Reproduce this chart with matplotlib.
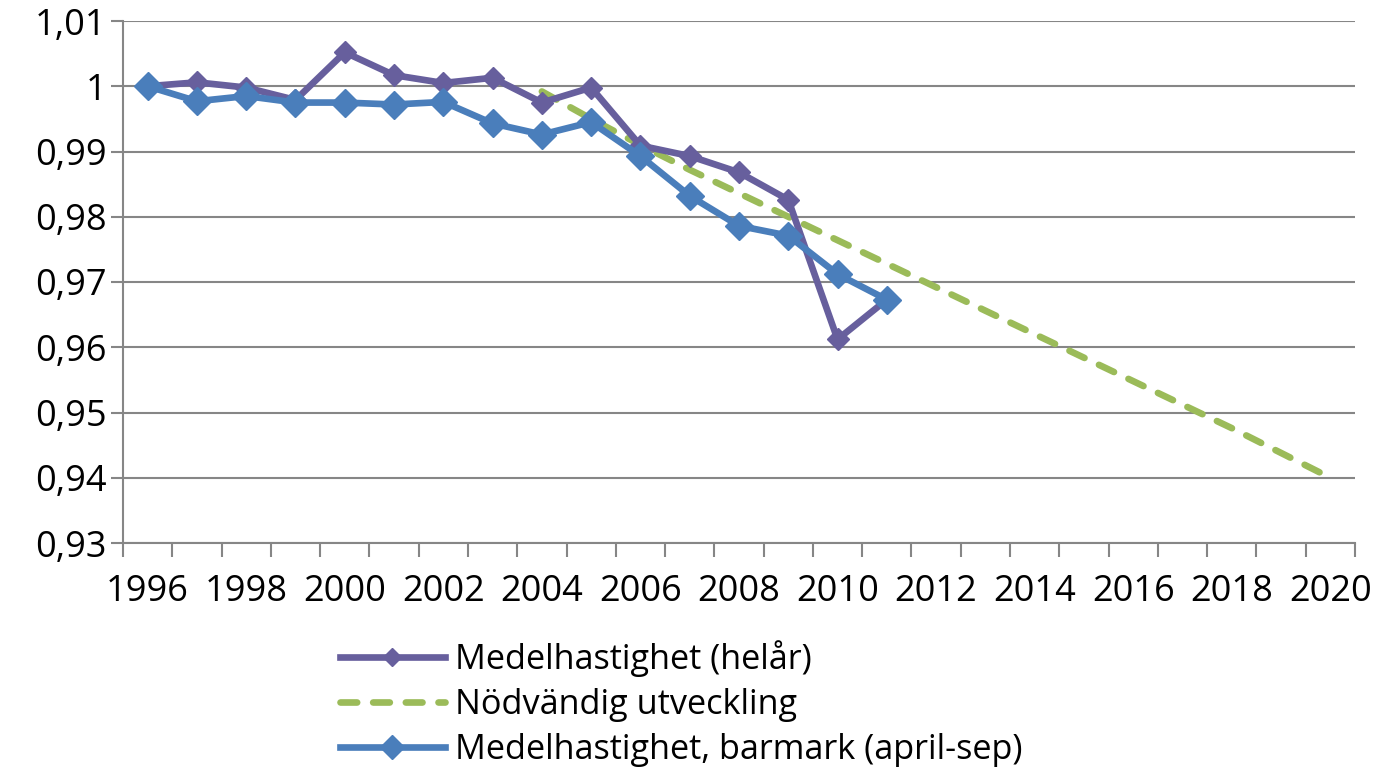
import matplotlib
matplotlib.use("Agg")
import matplotlib.pyplot as plt
from matplotlib.ticker import FixedLocator, FuncFormatter

years = list(range(1996, 2021))

helar_years = list(range(1996, 2012))
helar = [1.0000, 1.0006, 0.9998, 0.9979, 1.0052, 1.0017, 1.0005, 1.0013,
         0.9975, 0.9998, 0.9909, 0.9893, 0.9868, 0.9826, 0.9612, 0.9673]

barmark_years = list(range(1996, 2012))
barmark = [1.0000, 0.9977, 0.9985, 0.9975, 0.9975, 0.9972, 0.9976, 0.9943,
           0.9926, 0.9945, 0.9893, 0.9832, 0.9786, 0.9771, 0.9712, 0.9673]

need_years = list(range(2004, 2021))
need = [0.9992, 0.9950, 0.9910, 0.9872, 0.9836, 0.9800, 0.9764, 0.9728,
        0.9692, 0.9656, 0.9620, 0.9584, 0.9548, 0.9512, 0.9476, 0.9438, 0.9400]

y_ticks = [0.93, 0.94, 0.95, 0.96, 0.97, 0.98, 0.99, 1.00, 1.01]


def swedish(v, _pos):
    if abs(v - 1) < 1e-9:
        return "1"
    return f"{v:.2f}".replace(".", ",")


plt.rcParams["font.family"] = ["Open Sans", "DejaVu Sans"]

fig = plt.figure(figsize=(13.73, 7.69), dpi=100)
ax = fig.add_axes([123 / 1373, 1 - 543 / 769, 1232 / 1373, 522 / 769])

grey = "#868686"

ax.plot(helar_years, helar, color="#675F9D", lw=4.8, marker="D", ms=11,
        solid_joinstyle="round", label="Medelhastighet (helår)", zorder=3)
ax.plot(need_years, need, color="#9BBB59", lw=4.8, ls=(0, (2.5, 2.4)),
        dash_capstyle="round", label="Nödvändig utveckling", zorder=2)
ax.plot(barmark_years, barmark, color="#4A7EBB", lw=4.8, marker="D", ms=14,
        solid_joinstyle="round", label="Medelhastighet, barmark (april-sep)", zorder=4)

ax.set_xlim(years[0] - 0.5, years[-1] + 0.5)
ax.set_ylim(y_ticks[0], y_ticks[-1])

ax.xaxis.set_major_locator(FixedLocator(years[::2]))
ax.xaxis.set_minor_locator(FixedLocator([y - 0.5 for y in years] + [years[-1] + 0.5]))
ax.tick_params(axis="x", which="major", length=0, pad=22, labelsize=26)
ax.tick_params(axis="x", which="minor", length=10, width=1.5, color=grey)

ax.set_yticks(y_ticks)
ax.yaxis.set_major_formatter(FuncFormatter(swedish))
ax.tick_params(axis="y", length=9, width=1.5, color=grey, pad=3, labelsize=26)

ax.grid(axis="y", color=grey, lw=1.5)
ax.set_axisbelow(True)
for side in ("top", "right"):
    ax.spines[side].set_visible(False)
for side in ("left", "bottom"):
    ax.spines[side].set_color(grey)
    ax.spines[side].set_linewidth(1.5)

ax.legend(loc="upper left", bbox_to_anchor=(340 / 1373, 1 - 640 / 769),
          bbox_transform=fig.transFigure, frameon=False, fontsize=24.7,
          handlelength=3.05, handletextpad=0.3, labelspacing=0.33,
          borderpad=0, borderaxespad=0, markerscale=0.85)

fig.savefig("out.png", dpi=100)
